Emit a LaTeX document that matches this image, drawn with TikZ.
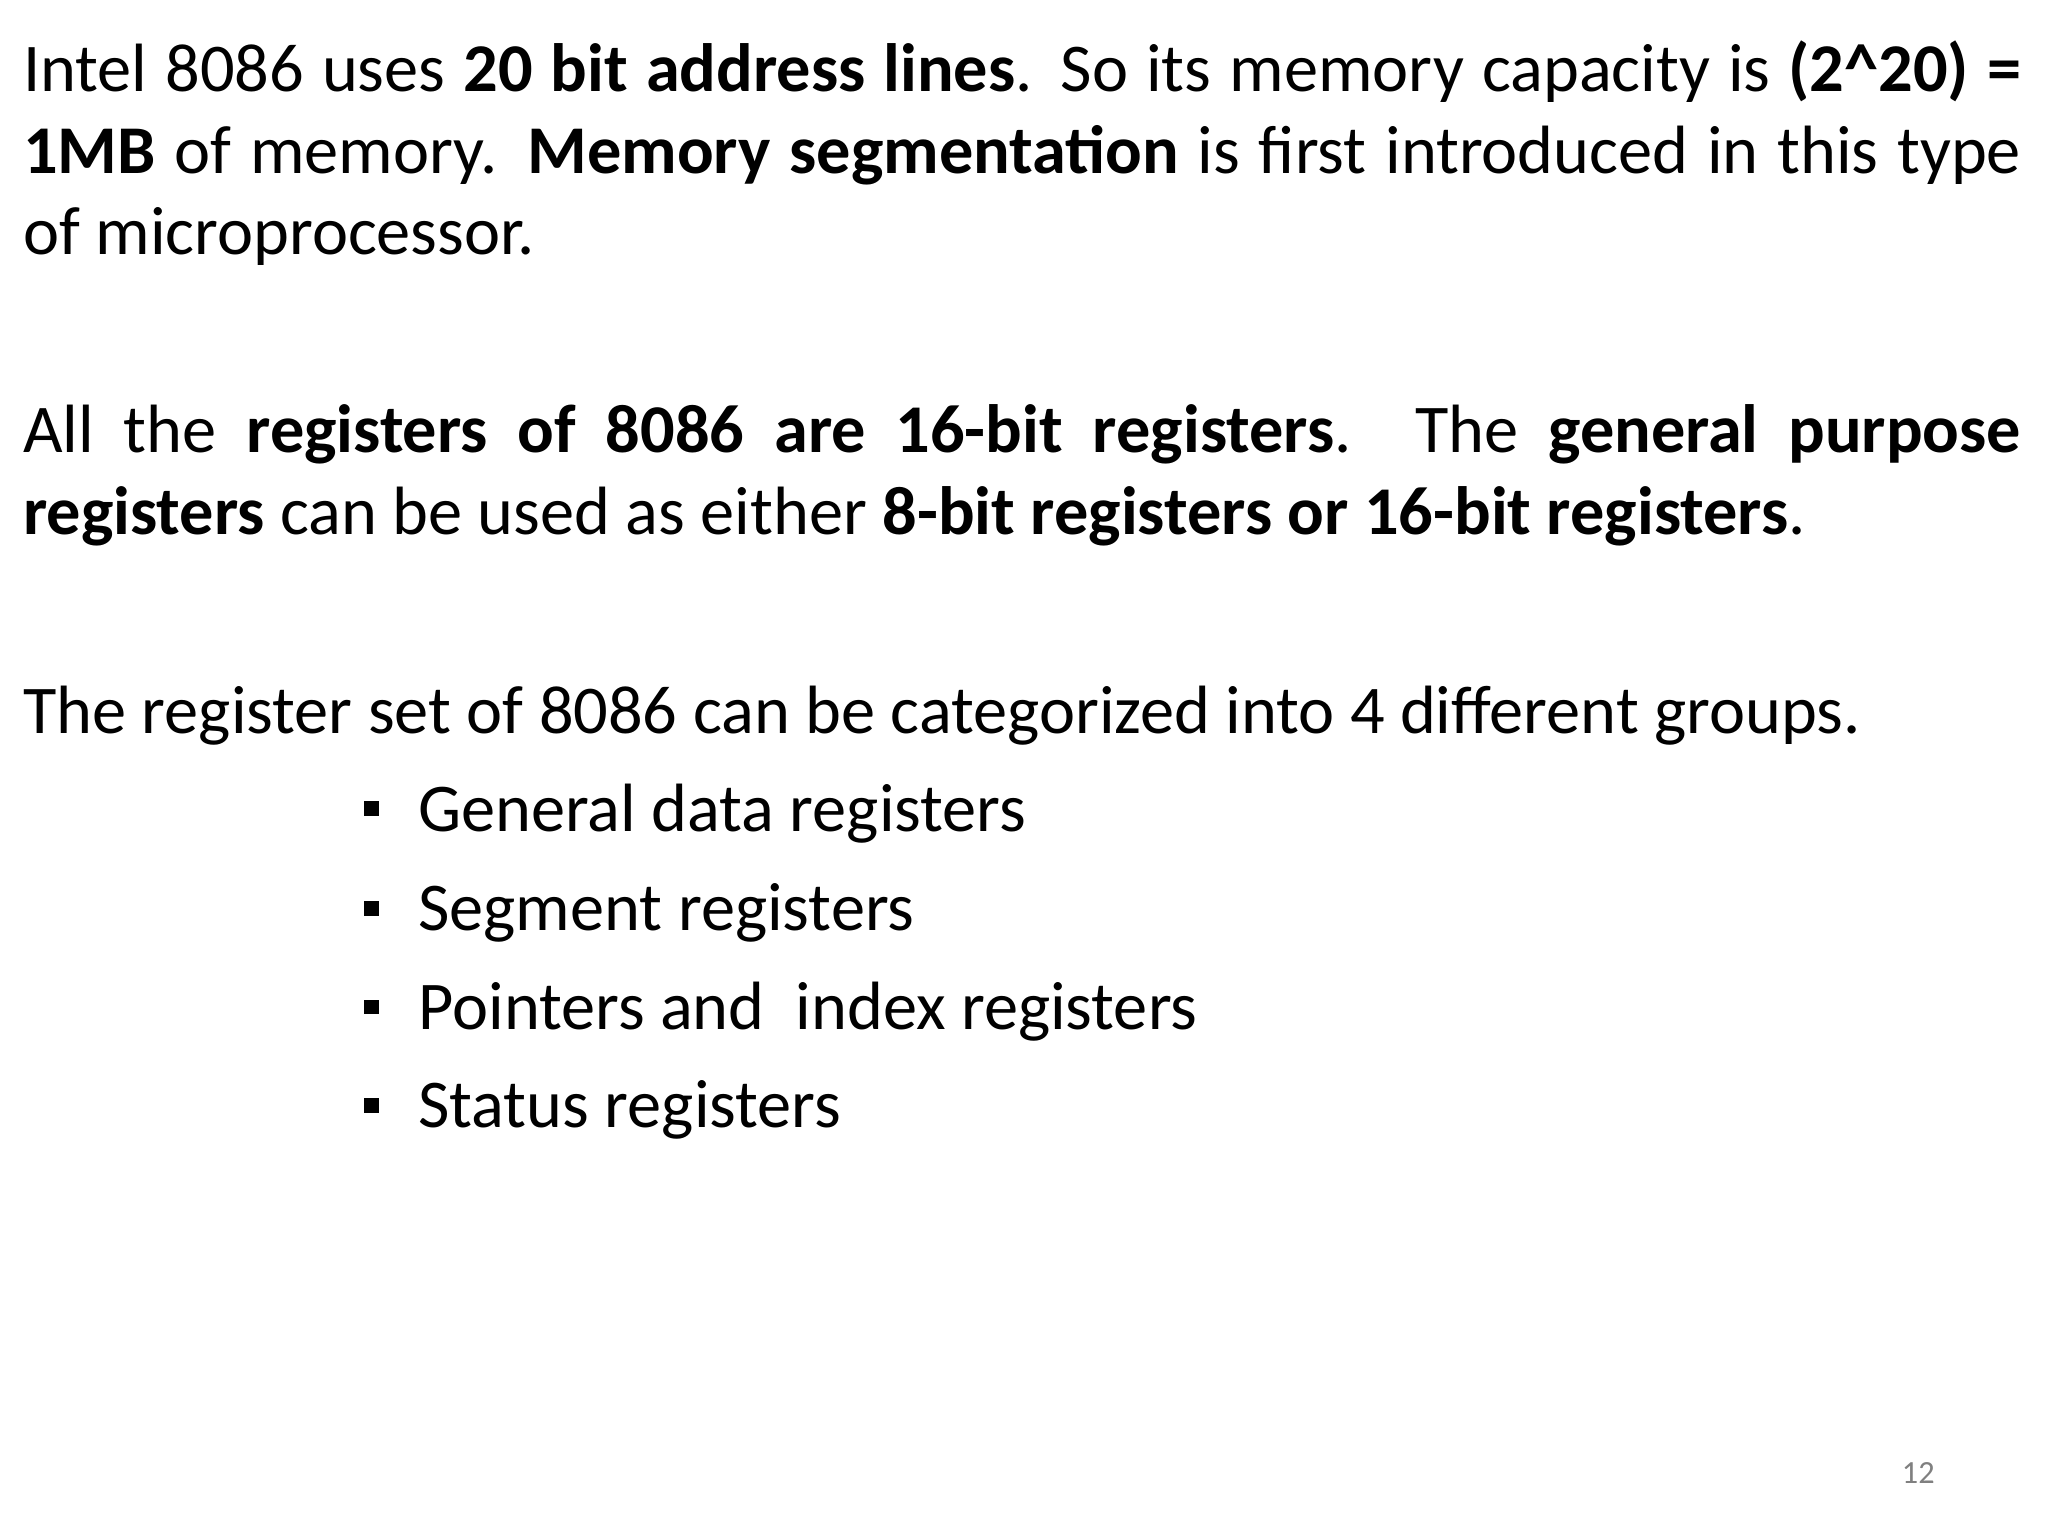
\documentclass[tikz,border=0pt]{standalone}
\usepackage{fontspec}
\setmainfont{Carlito}
\begin{document}
\begin{tikzpicture}[x=0.01cm,y=-0.01cm,
  txt/.style={anchor=base west,inner sep=0pt,font=\fontsize{14.8}{18}\selectfont},
  bul/.style={fill=black,minimum size=0.11cm,inner sep=0pt}]
\useasboundingbox (0,0) rectangle (1560,1170);
\node[txt] (l1) at (17,70) {\hbox to 15.21cm{Intel 8086 uses \textbf{20 bit address lines}. So its memory capacity is \textbf{(2\textasciicircum20) =}}};
\node[txt] (l2) at (17,132) {\hbox to 15.21cm{\textbf{1MB} of memory. \textbf{Memory segmentation} is first introduced in this type}};
\node[txt] (l3) at (17,194) {of microprocessor.};
\node[txt] (l4) at (17,345) {\hbox to 15.21cm{All the \textbf{registers of 8086 are 16-bit registers}. The \textbf{general purpose}}};
\node[txt] (l5) at (17,407) {\textbf{registers} can be used as either \textbf{8-bit registers or 16-bit registers}.};
\node[txt] (l6) at (17,559) {The register set of 8086 can be categorized into 4 different groups.};
\foreach \y/\t [count=\i] in {633/General data registers,709/Segment registers,784/Pointers and\ \ index registers,859/Status registers}{
  \node[bul] (b\i) at (283,\y-17) {};
  \node[txt] (t\i) at (318,\y) {\t};
}
\node[txt,font=\fontsize{7}{8}\selectfont,text=gray] (pg) at (1448,1130) {12};
\end{tikzpicture}
\end{document}
